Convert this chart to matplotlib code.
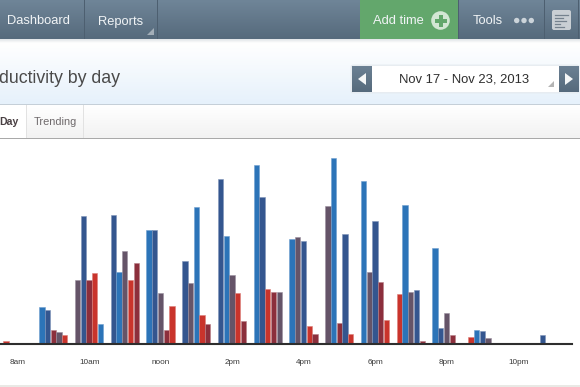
import numpy as np
import matplotlib
matplotlib.use("Agg")
import matplotlib.pyplot as plt
from matplotlib.patches import Rectangle, Circle, Polygon, FancyBboxPatch

plt.rcParams['font.family'] = ['Liberation Sans', 'DejaVu Sans']

# ---- data: hours of the day and the five bars of each hour group (left to right)
hours = list(range(8, 24))
tick_hours = [8, 10, 12, 14, 16, 18, 20, 22]
tick_labels = ['8am', '10am', 'noon', '2pm', '4pm', '6pm', '8pm', '10pm']
bar_1 = [2.7, 37, 64.3, 129, 113.7, 82.7, 164.7, 178.7, 105, 138.3, 163.3, 50.3, 96.3, 7, 0, 8.7]
bar_2 = [1, 34, 127.7, 72.3, 113.7, 60.7, 108.3, 147, 106.7, 186, 71.7, 139.3, 16.3, 14, 0, 1]
bar_3 = [0, 14, 64.3, 92.7, 51.3, 137, 68.7, 55, 102.7, 21, 123.3, 51.7, 30.7, 12.7, 0, 1]
bar_4 = [0, 11.7, 71, 64.3, 13.7, 29, 50.7, 52, 18.3, 110, 62.3, 54.3, 9, 5.7, 0, 0]
bar_5 = [0, 8.7, 20.3, 81.3, 38.3, 20, 23.3, 51.7, 9.7, 9.7, 23.7, 2.7, 0, 1, 0, 0]

# ---- styles
B, N, P, D, R = '#2c74b8', '#34568f', '#655468', '#8c2f3c', '#c9342c'
EDGE = {B: '#6f9fcf', N: '#7f94b8', P: '#9a8f9e', D: '#b57f87', R: '#dc7f79'}
bar_colors = [
    [R, B, P, N, B, N, N, B, B, P, B, R, B, R, N, N],
    [P, N, N, B, N, P, B, N, P, B, P, B, N, B, N, P],
    [P, D, D, P, P, B, P, R, N, D, N, P, P, N, N, R],
    [P, P, R, R, D, R, R, D, R, N, D, N, D, P, N, R],
    [P, R, B, D, R, D, D, P, D, R, R, D, D, D, N, R],
]
series = [bar_1, bar_2, bar_3, bar_4, bar_5]

W, H = 580, 387
fig = plt.figure(figsize=(W / 100, H / 100), dpi=100, facecolor='white')

# ---- page chrome, in pixel coordinates
bg = fig.add_axes([0, 0, 1, 1], zorder=0)
bg.set_xlim(0, W)
bg.set_ylim(H, 0)
bg.axis('off')


def vgrad(x0, x1, y0, y1, c0, c1, z=1):
    cm = matplotlib.colors.LinearSegmentedColormap.from_list('g', [c0, c1])
    bg.imshow(np.linspace(0, 1, 64)[:, None], extent=(x0, x1, y1, y0), cmap=cm,
              aspect='auto', zorder=z, interpolation='bilinear', vmin=0, vmax=1)


vgrad(0, W, 0, 39, '#6f8598', '#566a7c')
vgrad(0, W, 39, 43, '#dfe3e6', '#ffffff')
vgrad(0, W, 43, 104, '#ffffff', '#e6f1fb')
bg.add_patch(Rectangle((0, 104), W, 1, color='#c5cfd8', zorder=2, lw=0))
vgrad(0, W, 105, 138, '#ffffff', '#f2f2f2')
bg.add_patch(Rectangle((0, 105), 26, 33, color='#ffffff', zorder=2, lw=0))
bg.add_patch(Rectangle((0, 138), W, 1, color='#a9a9a9', zorder=2, lw=0))
bg.add_patch(Rectangle((0, 385), W, 2, color='#e9e9e5', zorder=2, lw=0))
for x in (26, 83):
    bg.add_patch(Rectangle((x, 105), 1, 33, color='#e2e2e2', zorder=3, lw=0))
for x in (84, 157, 458, 544, 578):
    bg.add_patch(Rectangle((x, 0), 1, 39, color='#4d5f70', zorder=3, lw=0))
bg.add_patch(Rectangle((360, 0), 98, 39, color='#63a76c', zorder=3, lw=0))

NAV = dict(color='#f1f4f6', fontsize=9.3, va='center', zorder=5)
bg.text(7, 21.5, 'Dashboard', **NAV)
bg.text(98, 21.5, 'Reports', **NAV)
bg.text(373, 21.5, 'Add time', **NAV)
bg.text(473, 21.5, 'Tools', **NAV)
bg.add_patch(Polygon([[154, 28], [154, 35], [147, 35]], color='#a3aeb8', zorder=5, lw=0))

bg.add_patch(Circle((440.5, 20.5), 9.3, color='#d3e7d4', zorder=5, lw=0))
bg.add_patch(Rectangle((438.5, 14.5), 4, 12, color='#63a76c', zorder=6, lw=0))
bg.add_patch(Rectangle((434.5, 18.5), 12, 4, color='#63a76c', zorder=6, lw=0))
for x in (516.7, 524, 531.3):
    bg.add_patch(Circle((x, 20.5), 2.7, color='#ccd4da', zorder=5, lw=0))
bg.add_patch(FancyBboxPatch((553, 11), 17, 18, boxstyle='round,pad=1,rounding_size=2',
                            fc='#c9cfd4', ec='none', zorder=5))
for y, x1 in zip((15, 18, 21, 24, 27), (568, 563, 566, 560, 564)):
    bg.plot([555, x1], [y, y], color='#75828e', lw=0.9, zorder=6)

bg.text(-1, 78.5, 'ductivity by day', color='#4a4a4a', fontsize=12.8, va='center', zorder=5)
bg.text(-1, 122, 'Day', color='#4a4043', fontsize=7.6, fontweight='bold', va='center', zorder=5)
bg.text(34, 122, 'Trending', color='#6f6a6c', fontsize=7.9, va='center', zorder=5)

bg.add_patch(FancyBboxPatch((352, 66), 226, 26, boxstyle='round,pad=0.8,rounding_size=2',
                            fc='#ffffff', ec='#e2e8ee', lw=0.8, zorder=4))
vgrad(352, 371.5, 66, 92, '#6b8093', '#566a7c', z=5)
vgrad(558.5, 578, 66, 92, '#6b8093', '#566a7c', z=5)
bg.add_patch(Polygon([[366, 73], [366, 85], [358, 79]], color='#f4f6f7', zorder=6, lw=0))
bg.add_patch(Polygon([[565, 73], [565, 85], [573, 79]], color='#f4f6f7', zorder=6, lw=0))
bg.add_patch(Polygon([[554, 81], [554, 87], [548, 87]], color='#b4b4b4', zorder=6, lw=0))
bg.text(464.5, 79.5, 'Nov 17 - Nov 23, 2013', color='#2e2e2e', fontsize=9.4,
        ha='center', va='center', zorder=6)
bg.set_xlim(0, W)
bg.set_ylim(H, 0)

# ---- the bar chart
base_y = 344
top_y = 145
ax = fig.add_axes([0, (H - base_y) / H, 572 / W, (base_y - top_y) / H], zorder=2)
ax.patch.set_alpha(0)
ax.set_xlim(7.5, 23.5)
ax.set_ylim(0, base_y - top_y)

slot = 0.16
for i, (vals, cols) in enumerate(zip(series, bar_colors)):
    xs = np.array(hours) + (i - 2) * slot - 0.01
    for x, v, c in zip(xs, vals, cols):
        if v > 0:
            ax.bar(x, v, width=0.15, color=c, edgecolor=EDGE[c], linewidth=0.4, zorder=2)

for s in ('top', 'left', 'right'):
    ax.spines[s].set_visible(False)
ax.spines['bottom'].set_color('#2e2e2e')
ax.spines['bottom'].set_linewidth(1.5)
ax.set_yticks([])
ax.set_xticks(tick_hours)
ax.set_xticklabels(tick_labels, fontsize=5.9, color='#3a3a3a')
ax.tick_params(axis='x', length=0, pad=11)

fig.savefig('out.png', dpi=100)
